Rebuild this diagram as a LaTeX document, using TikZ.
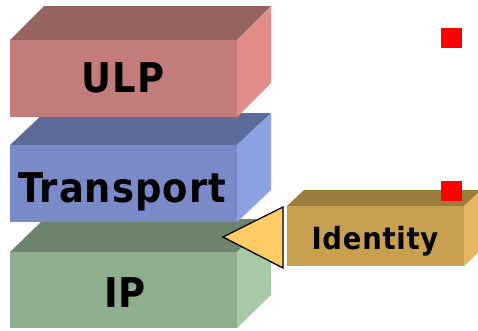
\documentclass[tikz,border=0pt]{standalone}
\usepackage{fontspec}
\setmainfont{DejaVu Sans Condensed}[LetterSpace=2.5]
\definecolor{ulpF}{RGB}{194,124,123}
\definecolor{ulpT}{RGB}{150,98,96}
\definecolor{ulpR}{RGB}{226,140,138}
\definecolor{trF}{RGB}{122,138,200}
\definecolor{trT}{RGB}{92,107,154}
\definecolor{trR}{RGB}{140,160,228}
\definecolor{ipF}{RGB}{143,174,143}
\definecolor{ipT}{RGB}{110,132,110}
\definecolor{ipR}{RGB}{168,200,168}
\definecolor{idF}{RGB}{200,160,80}
\definecolor{idT}{RGB}{154,124,60}
\definecolor{idR}{RGB}{228,184,96}
\definecolor{arrowY}{RGB}{255,204,102}
\tikzset{
  lbl/.style={font=\bfseries\fontsize{41}{41}\selectfont, text=black, inner sep=0pt, anchor=base},
  lblsmall/.style={font=\bfseries\fontsize{30.5}{30.5}\selectfont, text=black, inner sep=0pt, anchor=base},
  marker/.style={fill=red, draw=none}
}
% \layerbox{x1}{y1}{x2}{y2}{dx}{dy}{front}{top}{right}
\newcommand{\layerbox}[9]{%
  \fill[#8] (#1,#2) -- (#1+#5,#2-#6) -- (#3+#5,#2-#6) -- (#3,#2) -- cycle;
  \fill[#9] (#3,#2) -- (#3+#5,#2-#6) -- (#3+#5,#4-#6) -- (#3,#4) -- cycle;
  \fill[#7] (#1,#2) rectangle (#3,#4);
}
\begin{document}
\begin{tikzpicture}[x=1pt,y=-1pt]
\useasboundingbox (0,0) rectangle (478,330);
% IP
\layerbox{10}{252}{237}{328}{34}{33}{ipF}{ipT}{ipR}
\node[lbl] (ip) at (125,307) {IP};
% Transport
\layerbox{10}{145}{237}{222}{34}{32}{trF}{trT}{trR}
\node[lbl] (tr) at (122,202) {Transport};
% ULP
\layerbox{10}{40}{237}{117}{34}{34}{ulpF}{ulpT}{ulpR}
\node[lbl] (ulp) at (123,92) {ULP};
% Identity
\layerbox{287}{206}{464}{266}{17}{16}{idF}{idT}{idR}
\node[lblsmall] (id) at (375,249) {Identity};
% arrow triangle
\coordinate (tip) at (223,237);
\draw[fill=arrowY, draw=black, line width=1.3pt, line join=miter] (tip) -- (283,207) -- (283,268) -- cycle;
% red markers
\fill[marker] (441,28) rectangle (462,48);
\fill[marker] (441,181) rectangle (462,201);
\end{tikzpicture}
\end{document}
